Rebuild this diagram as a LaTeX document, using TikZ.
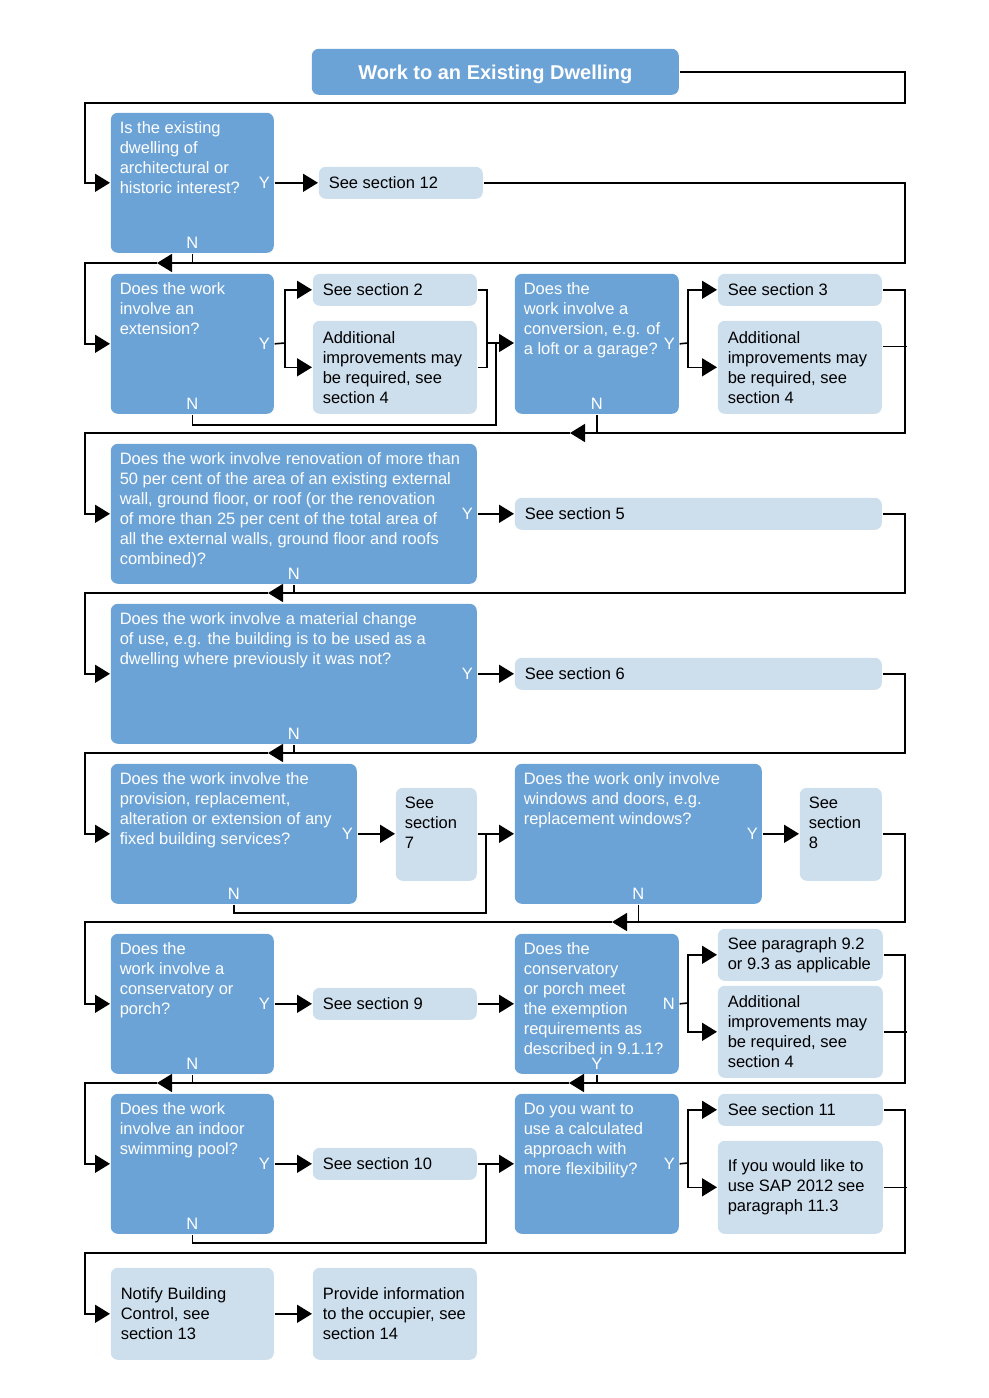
\documentclass[tikz,border=0pt]{standalone}
\usepackage{fontspec}
\setmainfont{Liberation Sans}
\usetikzlibrary{arrows.meta,positioning}
\definecolor{qblue}{RGB}{108,163,214}
\definecolor{sblue}{RGB}{205,222,237}
\tikzset{
  qbox/.style={fill=qblue, rounded corners=3.5pt, inner sep=0pt, anchor=north west},
  sbox/.style={fill=sblue, rounded corners=3.5pt, inner sep=0pt, anchor=north west},
  qtext/.style={text=white, align=left, inner sep=0pt, anchor=north west, font=\fontsize{8.25}{10}\selectfont},
  stext/.style={text=black, align=left, inner sep=0pt, anchor=west, font=\fontsize{8.25}{10}\selectfont},
  yn/.style={text=white, inner sep=0pt, font=\fontsize{8.25}{10}\selectfont},
  arr/.style={-{Triangle[length=7.5pt,width=9pt]}},
}
\begin{document}
\begin{tikzpicture}[x=0.5pt, y=-0.5pt, line width=0.8pt]
   \useasboundingbox (0,0) rectangle (989,1398);
   %titulo
   \node[qbox, minimum width=183.5pt, minimum height=23pt, text depth=0pt, text=white, font=\bfseries\fontsize{10}{12}\selectfont] (title) at (311,48) {Work to an Existing Dwelling};
   %preguntas
   \node[qbox, minimum width=81.5pt, minimum height=70pt] (q1) at (110,112) {};
   \node[qtext] (q1t) at ([shift={(9,9)}]q1.north west) {Is the existing\\dwelling of\\architectural or\\historic interest?};
   \node[qbox, minimum width=81.5pt, minimum height=70pt] (q2) at (110,273) {};
   \node[qtext] (q2t) at ([shift={(9,9)}]q2.north west) {Does the work\\involve an\\extension?};
   \node[qbox, minimum width=82pt, minimum height=70pt] (q3) at (514,273) {};
   \node[qtext] (q3t) at ([shift={(9,9)}]q3.north west) {Does the\\work involve a\\conversion, e.g. of\\a loft or a garage?};
   \node[qbox, minimum width=183pt, minimum height=70pt] (q4) at (110,443) {};
   \node[qtext] (q4t) at ([shift={(9,9)}]q4.north west) {Does the work involve renovation of more than\\50 per cent of the area of an existing external\\wall, ground floor, or roof (or the renovation\\of more than 25 per cent of the total area of\\all the external walls, ground floor and roofs\\combined)?};
   \node[qbox, minimum width=183pt, minimum height=70pt] (q5) at (110,603) {};
   \node[qtext] (q5t) at ([shift={(9,9)}]q5.north west) {Does the work involve a material change\\of use, e.g. the building is to be used as a\\dwelling where previously it was not?};
   \node[qbox, minimum width=123pt, minimum height=70pt] (q6) at (110,763) {};
   \node[qtext] (q6t) at ([shift={(9,9)}]q6.north west) {Does the work involve the\\provision, replacement,\\alteration or extension of any\\fixed building services?};
   \node[qbox, minimum width=123.5pt, minimum height=70pt] (q7) at (514,763) {};
   \node[qtext] (q7t) at ([shift={(9,9)}]q7.north west) {Does the work only involve\\windows and doors, e.g.\\replacement windows?};
   \node[qbox, minimum width=81.5pt, minimum height=70pt] (q8) at (110,933) {};
   \node[qtext] (q8t) at ([shift={(9,9)}]q8.north west) {Does the\\work involve a\\conservatory or\\porch?};
   \node[qbox, minimum width=82pt, minimum height=70pt] (q9) at (514,933) {};
   \node[qtext] (q9t) at ([shift={(9,9)}]q9.north west) {Does the\\conservatory\\or porch meet\\the exemption\\requirements as\\described in 9.1.1?};
   \node[qbox, minimum width=81.5pt, minimum height=70pt] (q10) at (110,1093) {};
   \node[qtext] (q10t) at ([shift={(9,9)}]q10.north west) {Does the work\\involve an indoor\\swimming pool?};
   \node[qbox, minimum width=82pt, minimum height=70pt] (q11) at (514,1093) {};
   \node[qtext] (q11t) at ([shift={(9,9)}]q11.north west) {Do you want to\\use a calculated\\approach with\\more flexibility?};
   %Y y N
   \node[yn, left=2pt of q1.east] (q1y) {Y};
   \node[yn, above=2pt of q1.south] (q1n) {N};
   \node[yn, left=2pt of q2.east] (q2y) {Y};
   \node[yn, above=2pt of q2.south] (q2n) {N};
   \node[yn, left=2pt of q3.east] (q3y) {Y};
   \node[yn, above=2pt of q3.south] (q3n) {N};
   \node[yn, left=2pt of q4.east] (q4y) {Y};
   \node[yn, above=2pt of q4.south] (q4n) {N};
   \node[yn, left=2pt of q5.east] (q5y) {Y};
   \node[yn, above=2pt of q5.south] (q5n) {N};
   \node[yn, left=2pt of q6.east] (q6y) {Y};
   \node[yn, above=2pt of q6.south] (q6n) {N};
   \node[yn, left=2pt of q7.east] (q7y) {Y};
   \node[yn, above=2pt of q7.south] (q7n) {N};
   \node[yn, left=2pt of q8.east] (q8y) {Y};
   \node[yn, above=2pt of q8.south] (q8n) {N};
   \node[yn, left=2pt of q9.east] (q9n) {N};
   \node[yn, above=2pt of q9.south] (q9y) {Y};
   \node[yn, left=2pt of q10.east] (q10y) {Y};
   \node[yn, above=2pt of q10.south] (q10n) {N};
   \node[yn, left=2pt of q11.east] (q11y) {Y};
   %secciones
   \node[sbox, minimum width=82pt, minimum height=16pt] (s12) at (318,166) {};
   \node[stext] (s12t) at ([xshift=5pt]s12.west) {See section 12};
   \node[sbox, minimum width=82pt, minimum height=16pt] (s2) at (312,273) {};
   \node[stext] (s2t) at ([xshift=5pt]s2.west) {See section 2};
   \node[sbox, minimum width=82pt, minimum height=46.5pt] (a2) at (312,320) {};
   \node[stext] (a2t) at ([xshift=5pt]a2.west) {Additional\\improvements may\\be required, see\\section 4};
   \node[sbox, minimum width=82pt, minimum height=16pt] (s3) at (717,273) {};
   \node[stext] (s3t) at ([xshift=5pt]s3.west) {See section 3};
   \node[sbox, minimum width=82pt, minimum height=46.5pt] (a3) at (717,320) {};
   \node[stext] (a3t) at ([xshift=5pt]a3.west) {Additional\\improvements may\\be required, see\\section 4};
   \node[sbox, minimum width=183.5pt, minimum height=16pt] (s5) at (514,497) {};
   \node[stext] (s5t) at ([xshift=5pt]s5.west) {See section 5};
   \node[sbox, minimum width=183.5pt, minimum height=16pt] (s6) at (514,657) {};
   \node[stext] (s6t) at ([xshift=5pt]s6.west) {See section 6};
   \node[sbox, minimum width=40.5pt, minimum height=46.5pt] (s7) at (395,787) {};
   \node[stext, anchor=north west] (s7t) at ([shift={(9,9)}]s7.north west) {See\\section\\7};
   \node[sbox, minimum width=41pt, minimum height=46.5pt] (s8) at (799,787) {};
   \node[stext, anchor=north west] (s8t) at ([shift={(9,9)}]s8.north west) {See\\section\\8};
   \node[sbox, minimum width=82pt, minimum height=16pt] (s9) at (312,987) {};
   \node[stext] (s9t) at ([xshift=5pt]s9.west) {See section 9};
   \node[sbox, minimum width=82.5pt, minimum height=26pt] (s92) at (717,928) {};
   \node[stext] (s92t) at ([xshift=5pt]s92.west) {See paragraph 9.2\\or 9.3 as applicable};
   \node[sbox, minimum width=82.5pt, minimum height=46pt] (a9) at (717,985) {};
   \node[stext] (a9t) at ([xshift=5pt]a9.west) {Additional\\improvements may\\be required, see\\section 4};
   \node[sbox, minimum width=82pt, minimum height=16pt] (s10) at (312,1147) {};
   \node[stext] (s10t) at ([xshift=5pt]s10.west) {See section 10};
   \node[sbox, minimum width=82.5pt, minimum height=16pt] (s11) at (717,1093) {};
   \node[stext] (s11t) at ([xshift=5pt]s11.west) {See section 11};
   \node[sbox, minimum width=82.5pt, minimum height=46.5pt] (sap) at (717,1140) {};
   \node[stext] (sapt) at ([xshift=5pt]sap.west) {If you would like to\\use SAP 2012 see\\paragraph 11.3};
   \node[sbox, minimum width=81.5pt, minimum height=46pt] (notify) at (110,1267) {};
   \node[stext] (notifyt) at ([xshift=5pt]notify.west) {Notify Building\\Control, see\\section 13};
   \node[sbox, minimum width=82pt, minimum height=46pt] (provide) at (312,1267) {};
   \node[stext] (providet) at ([xshift=5pt]provide.west) {Provide information\\to the occupier, see\\section 14};
   %puntos de union
   \coordinate (j1) at (157,263);
   \coordinate (b2) at (285,343);
   \coordinate (m2) at (487,343);
   \coordinate (b3) at (688,343);
   \coordinate (j2) at (570,433);
   \coordinate (j3) at (268,593);
   \coordinate (j4) at (268,753);
   \coordinate (j5) at (612,922);
   \coordinate (b9) at (688,1003);
   \coordinate (j7) at (569,1083);
   \coordinate (j6) at (157,1083);
   \coordinate (b11) at (688,1163);
   %lineas
   \draw[arr] (title.east) -| (905,103) -| ([xshift=-12.5pt]q1.west) -- (q1.west);
   \draw[arr] (q1.east) -- (q1.east -| s12.west);
   \draw[arr] (s12.east) -| (905,263) -- (j1);
   \draw (q1.south) -- (q1.south |- j1);
   \draw[arr] (j1) -- (85,263) |- (q2.west);
   \draw (q2.east) -- (b2);
   \draw[arr] (b2) |- (s2.west);
   \draw[arr] (b2) |- (a2.west);
   \draw (s2.east) -| (m2) |- (a2.east);
   \draw[arr] (m2) -- (m2 -| q3.west);
   \draw (q2.south) |- (496,425) -- (496,343);
   \draw (q3.east) -- (b3);
   \draw[arr] (b3) |- (s3.west);
   \draw[arr] (b3) |- (a3.west);
   \draw[arr] (s3.east) -| (905,433) -- (j2);
   \draw ([yshift=10.5pt]a3.east) -- ++(24,0);
   \draw (q3.south) -- (q3.south |- j2);
   \draw[arr] (j2) -- (85,433) |- (q4.west);
   \draw[arr] (q4.east) -- (q4.east -| s5.west);
   \draw[arr] (s5.east) -| (905,593) -- (j3);
   \draw (q4.south) -- (q4.south |- j3);
   \draw[arr] (j3) -- (85,593) |- (q5.west);
   \draw[arr] (q5.east) -- (q5.east -| s6.west);
   \draw[arr] (s6.east) -| (905,753) -- (j4);
   \draw (q5.south) -- (q5.south |- j4);
   \draw[arr] (j4) -- (85,753) |- (q6.west);
   \draw[arr] (q6.east) -- (q6.east -| s7.west);
   \draw[arr] (q6.east -| s7.east) -- (q6.east -| q7.west);
   \draw (q6.south) |- (486,913) -- (486,833);
   \draw[arr] (q7.east) -- (q7.east -| s8.west);
   \draw[arr] (q7.east -| s8.east) -| (905,922) -- (j5);
   \draw (q7.south) -- (q7.south |- j5);
   \draw[arr] (j5) -- (85,922) |- (q8.west);
   \draw[arr] (q8.east) -- (q8.east -| s9.west);
   \draw[arr] (q8.east -| s9.east) -- (q8.east -| q9.west);
   \draw (q9.east) -- (b9);
   \draw[arr] (b9) |- (s92.west);
   \draw[arr] (b9) |- (a9.west);
   \draw[arr] (s92.east) -| (905,1083) -- (j7);
   \draw (a9.east) -- ++(23,0);
   \draw (q9.south) -- (q9.south |- j7);
   \draw[arr] (j7) -- (j6);
   \draw (q8.south) -- (q8.south |- j6);
   \draw[arr] (j6) -- (85,1083) |- (q10.west);
   \draw[arr] (q10.east) -- (q10.east -| s10.west);
   \draw[arr] (q10.east -| s10.east) -- (q10.east -| q11.west);
   \draw (q10.south) |- (486,1243) -- (486,1163);
   \draw (q11.east) -- (b11);
   \draw[arr] (b11) |- (s11.west);
   \draw[arr] (b11) |- (sap.west);
   \draw[arr] (s11.east) -| (905,1253) -- (85,1253) |- (notify.west);
   \draw (sap.east) -- ++(23,0);
   \draw[arr] (notify.east) -- (provide.west);
\end{tikzpicture}
\end{document}
